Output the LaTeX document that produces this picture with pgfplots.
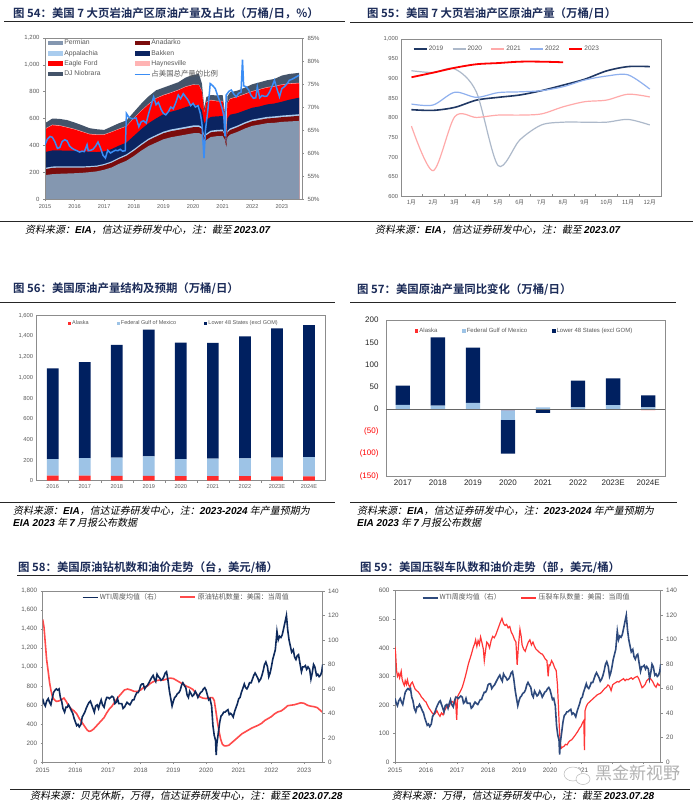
\documentclass[border=0pt]{standalone}
\usepackage{fontspec}
\usepackage{pgfplots}
\usepackage{pgfplotstable}
\pgfplotsset{compat=1.18}
\setmainfont{Liberation Sans}
\newfontfamily\cjk{Noto Sans CJK SC}
\newfontfamily\cjkb{Noto Sans CJK SC Bold}
\newfontfamily\cjki{Noto Sans CJK SC}[FakeSlant=0.2]

\definecolor{perm}{HTML}{8497B0}
\definecolor{anad}{HTML}{7B0C0C}
\definecolor{appa}{HTML}{A9CCEE}
\definecolor{bakk}{HTML}{0B2461}
\definecolor{eagle}{HTML}{FF0000}
\definecolor{hayn}{HTML}{FFB4B4}
\definecolor{djn}{HTML}{44546A}
\definecolor{pct}{HTML}{3A8DF5}
\definecolor{ttlc}{HTML}{1B2B58}
\definecolor{tk}{HTML}{595959}
\definecolor{frm}{HTML}{8C8C8C}
\definecolor{c19}{HTML}{203864}
\definecolor{c20}{HTML}{ADB9CA}
\definecolor{c21}{HTML}{FFAAAA}
\definecolor{c22}{HTML}{8FB0EE}
\definecolor{c23}{HTML}{FF0000}
\definecolor{ak}{HTML}{FF2D2D}
\definecolor{gom}{HTML}{9DC3E6}
\definecolor{l48}{HTML}{002060}
\definecolor{wticol}{HTML}{0E2A5C}
\definecolor{rigcol}{HTML}{FF4B4B}
\definecolor{wtibcol}{HTML}{2E4A7D}
\definecolor{fraccol}{HTML}{FF3535}

\pgfplotsset{
  base/.style={
    scale only axis, anchor=south west,
    axis line style={frm, line width=0.6pt},
    tick style={frm, line width=0.5pt},
    tick align=outside, major tick length=2pt,
    ticklabel style={text=tk},
    /pgf/number format/assume math mode=true,
    /pgf/number format/1000 sep={,},
    xticklabel style={/pgf/number format/1000 sep={}},
    legend cell align=left,
    legend style={draw=none, fill=none, inner sep=0pt, outer sep=0pt},
  },
}

% chart 54: stack boundaries (cumulative), 10k b/d
\pgfplotstableread{
t P A Ap B E H T
2015.00 178 222 232 350 520 524 565
2015.25 185 232 242 362 550 554 600
2015.50 188 234 244 362 545 549 597
2015.75 190 234 244 360 532 536 588
2016.00 192 234 244 360 518 522 570
2016.25 195 234 243 358 500 504 550
2016.50 200 236 245 352 482 486 528
2016.75 206 240 249 350 478 482 520
2017.00 218 252 261 355 478 482 515
2017.25 235 270 280 372 498 502 540
2017.50 262 298 308 398 520 524 565
2017.75 285 322 333 420 540 544 585
2018.00 320 358 370 470 600 604 648
2018.25 360 400 412 520 655 659 710
2018.50 395 438 450 565 705 709 765
2018.75 420 465 477 600 748 752 810
2019.00 445 490 502 632 772 776 830
2019.25 460 505 518 650 790 794 850
2019.50 470 515 528 665 810 814 870
2019.75 480 525 538 685 835 839 905
2020.00 490 535 548 700 850 854 925
2020.20 492 536 549 700 848 852 932
2020.30 480 522 535 660 800 804 860
2020.38 425 460 472 560 640 643 680
2020.45 440 475 487 590 720 724 760
2020.60 462 497 509 612 735 739 775
2020.80 468 503 515 616 728 732 772
2021.00 470 505 517 618 728 732 775
2021.08 440 470 480 540 600 603 640
2021.12 380 405 411 420 430 432 440
2021.16 460 495 507 600 710 714 765
2021.25 480 514 526 628 745 749 795
2021.50 500 535 547 640 760 764 808
2021.75 525 560 572 660 780 784 830
2022.00 545 580 592 680 800 804 855
2022.25 555 590 602 690 815 819 870
2022.50 565 600 612 705 830 834 885
2022.75 568 604 616 712 838 842 895
2023.00 575 610 622 725 850 854 920
2023.25 578 614 626 740 858 862 932
2023.58 582 620 632 755 862 866 940
}\tabA

% chart 54: share of US output, %
\pgfplotstableread{
t p
2015.00 61.8
2015.08 63.0
2015.17 63.6
2015.25 63.4
2015.33 62.5
2015.42 61.0
2015.50 61.2
2015.58 62.5
2015.67 62.9
2015.75 62.6
2015.83 61.5
2015.92 61.0
2016.00 60.7
2016.08 60.5
2016.17 60.2
2016.25 60.4
2016.33 60.3
2016.42 61.8
2016.46 60.5
2016.54 60.6
2016.62 60.8
2016.71 61.5
2016.79 62.4
2016.88 61.0
2016.96 59.5
2017.04 58.9
2017.12 60.6
2017.21 60.0
2017.29 60.3
2017.38 60.6
2017.46 60.5
2017.54 60.8
2017.62 60.4
2017.71 60.5
2017.75 68.6
2017.83 67.8
2017.92 67.5
2018.00 67.5
2018.08 67.6
2018.17 65.7
2018.25 66.8
2018.33 67.0
2018.42 66.5
2018.50 68.6
2018.58 70.3
2018.67 72.2
2018.75 70.5
2018.83 71.0
2018.92 69.5
2019.00 68.6
2019.08 68.3
2019.17 69.0
2019.25 70.0
2019.33 69.6
2019.42 71.0
2019.50 72.6
2019.58 71.8
2019.67 72.9
2019.75 72.2
2019.83 71.5
2019.92 70.3
2020.00 70.8
2020.08 70.0
2020.17 70.3
2020.25 68.5
2020.30 66.5
2020.37 58.9
2020.42 65.0
2020.50 69.3
2020.58 75.1
2020.67 74.6
2020.75 74.0
2020.83 72.5
2020.92 71.0
2021.00 69.3
2021.04 68.0
2021.08 63.6
2021.12 72.6
2021.21 73.4
2021.29 73.7
2021.38 72.8
2021.46 72.2
2021.54 73.0
2021.62 73.2
2021.67 80.3
2021.71 74.6
2021.79 74.4
2021.88 73.7
2021.96 72.5
2022.04 71.9
2022.12 72.0
2022.17 74.4
2022.25 72.0
2022.33 72.5
2022.42 72.3
2022.50 72.4
2022.58 73.2
2022.67 74.5
2022.75 75.8
2022.83 74.0
2022.92 72.2
2023.00 74.0
2023.08 74.4
2023.17 75.0
2023.25 75.8
2023.33 76.0
2023.42 76.3
2023.50 76.6
2023.58 76.9
}\tabP

% WTI weekly average, USD/bbl
\pgfplotstableread{
t w
2015.00 52
2015.04 48
2015.08 46
2015.12 50
2015.17 52
2015.21 49
2015.25 47
2015.29 52
2015.33 57
2015.38 59
2015.42 60
2015.46 59
2015.50 60
2015.54 53
2015.58 50
2015.62 44
2015.67 41
2015.71 45
2015.75 45
2015.79 47
2015.83 45
2015.88 42
2015.92 40
2015.96 36
2016.00 33
2016.04 30
2016.08 31
2016.12 29
2016.17 31
2016.21 37
2016.25 39
2016.29 41
2016.33 44
2016.38 47
2016.42 49
2016.46 50
2016.50 47
2016.54 44
2016.58 41
2016.62 46
2016.67 47
2016.71 44
2016.75 48
2016.79 51
2016.83 47
2016.88 45
2016.92 50
2016.96 53
2017.00 53
2017.04 52
2017.08 53
2017.12 54
2017.17 53
2017.21 48
2017.25 49
2017.29 52
2017.33 48
2017.38 48
2017.42 48
2017.46 44
2017.50 45
2017.54 47
2017.58 49
2017.62 48
2017.67 47
2017.71 49
2017.75 51
2017.79 51
2017.83 54
2017.88 57
2017.92 57
2017.96 59
2018.00 63
2018.04 64
2018.08 64
2018.12 60
2018.17 62
2018.21 63
2018.25 65
2018.29 67
2018.33 69
2018.38 71
2018.42 68
2018.46 66
2018.50 72
2018.54 70
2018.58 69
2018.62 67
2018.67 68
2018.71 70
2018.75 73
2018.79 74
2018.83 68
2018.88 58
2018.92 52
2018.96 46
2019.00 50
2019.04 53
2019.08 54
2019.12 56
2019.17 57
2019.21 59
2019.25 63
2019.29 65
2019.33 63
2019.38 61
2019.42 55
2019.46 53
2019.50 58
2019.54 56
2019.58 54
2019.62 55
2019.67 58
2019.71 56
2019.75 53
2019.79 55
2019.83 57
2019.88 58
2019.92 60
2019.96 61
2020.00 59
2020.04 55
2020.08 51
2020.12 52
2020.17 46
2020.21 30
2020.25 22
2020.29 18
2020.31 6
2020.33 15
2020.38 25
2020.42 33
2020.46 38
2020.50 39
2020.54 41
2020.58 41
2020.62 42
2020.67 43
2020.71 39
2020.75 40
2020.79 39
2020.83 37
2020.88 42
2020.92 45
2020.96 48
2021.00 52
2021.04 53
2021.08 57
2021.12 60
2021.17 64
2021.21 61
2021.25 60
2021.29 62
2021.33 65
2021.38 65
2021.42 68
2021.46 71
2021.50 73
2021.54 71
2021.58 69
2021.62 66
2021.67 68
2021.71 71
2021.75 75
2021.79 80
2021.83 82
2021.88 78
2021.92 70
2021.96 73
2022.00 78
2022.04 84
2022.08 88
2022.12 92
2022.17 107
2022.21 100
2022.25 103
2022.29 102
2022.33 104
2022.38 110
2022.42 115
2022.46 120
2022.50 108
2022.54 100
2022.58 95
2022.62 90
2022.67 92
2022.71 86
2022.75 84
2022.79 87
2022.83 88
2022.88 80
2022.92 74
2022.96 78
2023.00 78
2023.04 79
2023.08 76
2023.12 78
2023.17 76
2023.21 68
2023.25 73
2023.29 80
2023.33 78
2023.38 71
2023.42 72
2023.46 70
2023.50 71
2023.54 74
2023.57 80
}\tabW

% US oil rig count
\pgfplotstableread{
t r
2015.00 1500
2015.04 1420
2015.08 1250
2015.12 1080
2015.17 950
2015.21 840
2015.25 760
2015.29 700
2015.33 670
2015.38 650
2015.42 640
2015.50 645
2015.58 660
2015.65 675
2015.72 640
2015.80 590
2015.88 560
2015.96 540
2016.04 510
2016.12 460
2016.20 420
2016.28 380
2016.36 340
2016.42 325
2016.48 330
2016.56 350
2016.64 380
2016.72 410
2016.80 440
2016.88 470
2016.96 520
2017.04 560
2017.12 590
2017.20 630
2017.30 680
2017.40 720
2017.50 760
2017.60 770
2017.70 760
2017.80 745
2017.90 745
2018.00 760
2018.10 790
2018.20 800
2018.30 830
2018.40 850
2018.50 860
2018.60 865
2018.70 865
2018.80 875
2018.90 885
2019.00 880
2019.10 860
2019.20 840
2019.30 820
2019.40 800
2019.50 785
2019.60 765
2019.70 720
2019.80 690
2019.90 675
2020.00 670
2020.10 680
2020.20 680
2020.25 650
2020.30 540
2020.35 420
2020.40 320
2020.45 240
2020.50 190
2020.55 175
2020.60 172
2020.65 175
2020.70 180
2020.80 210
2020.90 240
2021.00 270
2021.10 300
2021.20 320
2021.30 340
2021.40 360
2021.50 375
2021.60 390
2021.70 410
2021.80 440
2021.90 460
2022.00 480
2022.10 510
2022.20 530
2022.30 540
2022.40 565
2022.50 595
2022.60 600
2022.70 605
2022.80 615
2022.90 625
2023.00 620
2023.10 600
2023.20 590
2023.30 585
2023.40 575
2023.50 545
2023.57 525
}\tabR

% US frac spread count
\pgfplotstableread{
t f
2015.00 404
2015.02 380
2015.05 320
2015.08 300
2015.12 310
2015.15 295
2015.20 318
2015.23 290
2015.27 275
2015.30 268
2015.33 285
2015.37 272
2015.40 288
2015.44 270
2015.48 262
2015.52 275
2015.56 280
2015.60 268
2015.65 255
2015.70 250
2015.75 245
2015.80 238
2015.85 228
2015.90 222
2015.95 215
2016.00 210
2016.05 198
2016.10 188
2016.15 180
2016.20 172
2016.25 166
2016.30 170
2016.35 180
2016.40 168
2016.45 160
2016.50 172
2016.55 165
2016.60 180
2016.65 190
2016.70 200
2016.75 195
2016.80 210
2016.85 212
2016.90 205
2016.95 222
2016.99 148
2017.02 230
2017.07 240
2017.12 250
2017.17 262
2017.22 280
2017.27 300
2017.32 322
2017.37 345
2017.42 362
2017.47 380
2017.52 400
2017.57 415
2017.60 428
2017.64 405
2017.68 425
2017.72 412
2017.76 438
2017.80 420
2017.85 395
2017.88 355
2017.92 390
2017.96 420
2018.00 415
2018.05 400
2018.10 425
2018.15 440
2018.20 435
2018.25 445
2018.30 460
2018.35 475
2018.40 490
2018.45 503
2018.50 485
2018.55 478
2018.60 482
2018.65 470
2018.70 475
2018.75 455
2018.80 445
2018.85 430
2018.90 420
2018.94 340
2018.98 405
2019.03 465
2019.07 440
2019.10 410
2019.15 395
2019.20 388
2019.25 405
2019.30 420
2019.35 428
2019.40 410
2019.45 420
2019.50 405
2019.55 395
2019.60 390
2019.65 385
2019.70 380
2019.75 378
2019.80 370
2019.85 360
2019.90 355
2019.94 300
2019.97 340
2020.00 338
2020.05 355
2020.10 345
2020.15 330
2020.20 320
2020.24 270
2020.27 200
2020.30 120
2020.33 70
2020.36 48
2020.40 52
2020.45 55
2020.50 62
2020.55 60
2020.60 70
2020.65 75
2020.70 78
2020.75 85
2020.80 92
2020.85 100
2020.90 108
2020.95 118
2021.00 125
2021.05 138
2021.09 145
2021.11 42
2021.13 180
2021.17 195
2021.22 205
2021.27 210
2021.32 215
2021.37 220
2021.42 225
2021.47 230
2021.52 235
2021.57 238
2021.62 240
2021.67 245
2021.72 252
2021.77 258
2021.82 262
2021.87 270
2021.92 265
2021.97 250
2022.02 270
2022.07 275
2022.12 278
2022.17 282
2022.22 280
2022.27 285
2022.32 288
2022.37 292
2022.42 285
2022.47 290
2022.52 288
2022.57 292
2022.62 295
2022.67 290
2022.72 295
2022.77 298
2022.82 300
2022.87 290
2022.92 275
2022.97 260
2023.02 265
2023.07 272
2023.12 285
2023.17 290
2023.22 295
2023.27 288
2023.32 280
2023.37 268
2023.42 262
2023.47 275
2023.52 268
2023.57 272
}\tabF

\newcommand{\ttl}[3]{\node[anchor=west, inner sep=0pt, text=ttlc, font=\cjkb\fontsize{11.4}{13}\selectfont] at (#1pt,-#2pt) {#3};}
\newcommand{\src}[3]{\node[anchor=west, inner sep=0pt, font=\cjki\fontsize{10}{12}\selectfont] at (#1pt,-#2pt) {#3};}
\newcommand{\lat}[1]{{\normalfont\bfseries\itshape #1}}
\newcommand{\hl}[3]{\draw[line width=0.8pt, black!85] (#1pt,-#3pt) -- (#2pt,-#3pt);}

\begin{document}
\begin{tikzpicture}
\fill[white] (0pt,0pt) rectangle (700pt,-806pt);
\useasboundingbox (0pt,0pt) rectangle (700pt,-806pt);

% ---------- titles, rules, sources ----------
\ttl{13}{13.5}{图 54：美国 7 大页岩油产区原油产量及占比（万桶/日，\%）}
\ttl{367}{13.5}{图 55：美国 7 大页岩油产区原油产量（万桶/日）}
\ttl{13}{289}{图 56：美国原油产量结构及预期（万桶/日）}
\ttl{357}{289.5}{图 57：美国原油产量同比变化（万桶/日）}
\ttl{18}{568}{图 58：美国原油钻机数和油价走势（台，美元/桶）}
\ttl{360}{568}{图 59：美国压裂车队数和油价走势（部，美元/桶）}

\hl{4}{345}{21.5}
\hl{350}{693}{22}
\hl{0}{335}{302.7}
\hl{350}{676}{302.7}
\hl{17}{350}{575}
\hl{350}{688}{575.7}

\hl{0}{350}{221}
\hl{350}{693}{221}
\hl{0}{335}{502.7}
\hl{350}{677}{502.7}
\hl{10}{350}{789}
\hl{350}{690}{789}

\src{25}{229.5}{资料来源：\lat{EIA}，信达证券研发中心，注：截至 \lat{2023.07}}
\src{375}{229.5}{资料来源：\lat{EIA}，信达证券研发中心，注：截至 \lat{2023.07}}
\src{13}{510.5}{资料来源：\lat{EIA}，信达证券研发中心，注：\lat{2023-2024} 年产量预期为}
\src{13}{522.5}{\lat{EIA 2023} 年 \lat{7} 月报公布数据}
\src{357}{510.5}{资料来源：\lat{EIA}，信达证券研发中心，注：\lat{2023-2024} 年产量预期为}
\src{357}{522.5}{\lat{EIA 2023} 年 \lat{7} 月报公布数据}
\src{30}{796}{资料来源：贝克休斯，万得，信达证券研发中心，注：截至 \lat{2023.07.28}}
\src{391.7}{796}{资料来源：万得，信达证券研发中心，注：截至 \lat{2023.07.28}}

% ---------- chart 54 ----------
\begin{axis}[base, at={(45pt,-199pt)}, width=257pt, height=161pt, axis on top,
  xmin=2015, xmax=2023.68, ymin=0, ymax=1200,
  xtick={2015,...,2023}, ytick={0,200,...,1200},
  ytick pos=left, xtick pos=bottom,
  yticklabel style={font=\fontsize{6}{7}\selectfont},
  xticklabel style={font=\fontsize{5.6}{7}\selectfont},
  legend columns=2,
  legend style={at={(0.012,0.995)}, anchor=north west,
    font=\fontsize{6.8}{7}\selectfont, row sep=1.3pt,
    nodes={text=tk, inner sep=1.2pt},
    /tikz/column 2/.style={column sep=32pt}},
  legend image code/.code={\fill[#1] (0pt,-2.2pt) rectangle (15pt,2.2pt);},
]
\addlegendimage{fill=perm, draw=none}\addlegendentry{Permian}
\addlegendimage{fill=anad, draw=none}\addlegendentry{Anadarko}
\addlegendimage{fill=appa, draw=none}\addlegendentry{Appalachia}
\addlegendimage{fill=bakk, draw=none}\addlegendentry{Bakken}
\addlegendimage{fill=eagle, draw=none}\addlegendentry{Eagle Ford}
\addlegendimage{fill=hayn, draw=none}\addlegendentry{Haynesville}
\addlegendimage{fill=djn, draw=none}\addlegendentry{DJ Niobrara}
\addlegendimage{legend image code/.code={\draw[pct, line width=1.5pt] (0pt,0pt) -- (15pt,0pt);}}
\addlegendentry{{\cjk\fontsize{7.4}{7}\selectfont 占美国总产量的比例}}
\addplot[fill=djn, draw=none, forget plot] table[x=t, y=T] {\tabA} \closedcycle;
\addplot[fill=hayn, draw=none, forget plot] table[x=t, y=H] {\tabA} \closedcycle;
\addplot[fill=eagle, draw=none, forget plot] table[x=t, y=E] {\tabA} \closedcycle;
\addplot[fill=bakk, draw=none, forget plot] table[x=t, y=B] {\tabA} \closedcycle;
\addplot[fill=appa, draw=none, forget plot] table[x=t, y=Ap] {\tabA} \closedcycle;
\addplot[fill=anad, draw=none, forget plot] table[x=t, y=A] {\tabA} \closedcycle;
\addplot[fill=perm, draw=none, forget plot] table[x=t, y=P] {\tabA} \closedcycle;
\end{axis}
\begin{axis}[base, at={(45pt,-199pt)}, width=257pt, height=161pt,
  xmin=2015, xmax=2023.68, ymin=50, ymax=85,
  axis x line=none, axis y line*=right,
  ytick={50,55,...,85}, yticklabel={\pgfmathprintnumber{\tick}\%},
  yticklabel style={font=\fontsize{6}{7}\selectfont},
]
\addplot[pct, line width=1.5pt] table[x=t, y=p] {\tabP};
\end{axis}

% ---------- chart 55 ----------
\begin{axis}[base, at={(401.7pt,-196.7pt)}, width=260pt, height=157.7pt,
  xmin=0.55, xmax=12.55, ymin=600, ymax=1000,
  ytick={600,650,...,1000}, xtick={1,...,12},
  xticklabels={{\cjk 1月},{\cjk 2月},{\cjk 3月},{\cjk 4月},{\cjk 5月},{\cjk 6月},{\cjk 7月},{\cjk 8月},{\cjk 9月},{\cjk 10月},{\cjk 11月},{\cjk 12月}},
  minor xtick={1.5,2.5,...,11.5}, tick align=inside,
  major tick length=0pt, minor tick length=2.5pt,
  ytick pos=left, xtick pos=bottom,
  yticklabel style={font=\fontsize{5.8}{7}\selectfont},
  xticklabel style={font=\fontsize{5.8}{7}\selectfont},
  legend columns=-1,
  legend style={at={(0.043,0.937)}, anchor=west,
    font=\fontsize{6.5}{7}\selectfont, nodes={text=tk, inner sep=1.3pt},
    /tikz/every even column/.append style={column sep=7.5pt}},
  legend image code/.code={\draw[#1] (0pt,0pt) -- (13pt,0pt);},
]
\addplot[c19, line width=1.6pt, smooth] coordinates {(1,820.7)(2,819)(3,826.6)(4,845)(5,852)(6,858)(7,869)(8,883)(9,898)(10,919)(11,930)(12,930)};
\addlegendentry{2019}
\addplot[c20, line width=1.2pt, smooth] coordinates {(1,919.6)(2,915)(3,924)(4,865)(5,679)(6,744)(7,782)(8,789)(9,789)(10,789)(11,796)(12,782)};
\addlegendentry{2020}
\addplot[c21, line width=1.2pt, smooth] coordinates {(1,779)(2,666)(3,803)(4,801)(5,807)(6,807)(7,810)(8,828)(9,841)(10,845)(11,860)(12,853)};
\addlegendentry{2021}
\addplot[c22, line width=1.2pt, smooth] coordinates {(1,835)(2,832.6)(3,865)(4,852)(5,864)(6,866)(7,869)(8,879)(9,896)(10,906)(11,909)(12,873)};
\addlegendentry{2022}
\addplot[c23, line width=1.8pt, smooth] coordinates {(1,903)(2,914.6)(3,927)(4,936)(5,939)(6,942.5)(7,942.5)(8,941)};
\addlegendentry{2023}
\end{axis}

% ---------- chart 56 ----------
\begin{axis}[base, at={(36.7pt,-480.7pt)}, width=288.3pt, height=165pt,
  ybar stacked, bar width=11.7pt,
  xmin=-0.5, xmax=8.5, ymin=0, ymax=1600,
  ytick={0,200,...,1600}, xtick={0,...,8},
  xticklabels={2016,2017,2018,2019,2020,2021,2022,2023E,2024E},
  minor xtick={0.5,1.5,...,7.5}, major tick length=0pt, minor tick length=2pt,
  ytick pos=left, xtick pos=bottom,
  yticklabel style={font=\fontsize{5.8}{7}\selectfont},
  xticklabel style={font=\fontsize{5.6}{7}\selectfont},
  legend columns=-1,
  legend style={at={(0.1086,0.954)}, anchor=west,
    font=\fontsize{5.5}{6}\selectfont, nodes={text=tk, inner sep=1pt},
    /tikz/every even column/.append style={column sep=27pt}},
]
\addplot[fill=ak, draw=none, legend image code/.code={\fill[ak] (0pt,-1.6pt) rectangle (3.2pt,1.6pt);}]
  coordinates {(0,49)(1,49)(2,48)(3,47)(4,45)(5,44)(6,44)(7,43)(8,42)};
\addlegendentry{Alaska}
\addplot[fill=gom, draw=none, legend image code/.code={\fill[gom] (0pt,-1.6pt) rectangle (3.2pt,1.6pt);}]
  coordinates {(0,160)(1,171)(2,175)(3,190)(4,165)(5,171)(6,173)(7,180)(8,187)};
\addlegendentry{Federal Gulf of Mexico}
\addplot[fill=l48, draw=none, legend image code/.code={\fill[l48] (0pt,-1.6pt) rectangle (3.2pt,1.6pt);}]
  coordinates {(0,881)(1,930)(2,1095)(3,1229)(4,1128)(5,1121)(6,1183)(7,1255)(8,1279)};
\addlegendentry{Lower 48 States (excl GOM)}
\end{axis}

% ---------- chart 57 ----------
\begin{axis}[base, at={(386pt,-476pt)}, width=279pt, height=156pt,
  ybar stacked, bar width=14.3pt,
  xmin=-0.48, xmax=7.48, ymin=-150, ymax=200,
  ytick={-150,-100,...,200},
  yticklabels={\textcolor{red}{(150)},\textcolor{red}{(100)},\textcolor{red}{(50)},0,50,100,150,200},
  xtick={0,...,7}, xticklabels={2017,2018,2019,2020,2021,2022,2023E,2024E},
  major tick length=0pt,
  ticklabel style={text=black!85, font=\fontsize{8}{9}\selectfont},
  yticklabel style={xshift=-4pt},
  legend columns=-1,
  legend style={at={(0.104,0.929)}, anchor=west,
    font=\fontsize{6}{7}\selectfont, nodes={text=tk, inner sep=1pt},
    /tikz/every even column/.append style={column sep=24pt}},
]
\addplot[fill=ak, draw=none, legend image code/.code={\fill[ak] (0pt,-1.7pt) rectangle (3.4pt,1.7pt);}]
  coordinates {(0,0.5)(1,0)(2,0)(3,0)(4,0)(5,0)(6,0)(7,0)};
\addlegendentry{Alaska}
\addplot[fill=gom, draw=none, legend image code/.code={\fill[gom] (0pt,-1.7pt) rectangle (3.4pt,1.7pt);}]
  coordinates {(0,9)(1,8)(2,14)(3,0)(4,4)(5,4)(6,9)(7,4)};
\addlegendentry{Federal Gulf of Mexico}
\addplot[fill=l48, draw=none, legend image code/.code={\fill[l48] (0pt,-1.7pt) rectangle (3.4pt,1.7pt);}]
  coordinates {(0,43)(1,153)(2,124)(3,0)(4,0)(5,60)(6,60)(7,27)};
\addlegendentry{Lower 48 States (excl GOM)}
\end{axis}
\begin{axis}[base, at={(386pt,-476pt)}, width=279pt, height=156pt,
  ybar stacked, bar width=14.3pt, hide axis,
  xmin=-0.48, xmax=7.48, ymin=-150, ymax=200]
\addplot[fill=ak, draw=none] coordinates {(0,0)(1,-1)(2,-1)(3,-2)(4,-0.5)(5,-1)(6,0)(7,-2)};
\addplot[fill=gom, draw=none] coordinates {(0,0)(1,0)(2,0)(3,-22)(4,0)(5,0)(6,0)(7,0)};
\addplot[fill=l48, draw=none] coordinates {(0,0)(1,0)(2,0)(3,-76)(4,-8)(5,0)(6,0)(7,0)};
\end{axis}
\begin{axis}[base, at={(386pt,-476pt)}, width=279pt, height=156pt, hide axis,
  xmin=-0.48, xmax=7.48, ymin=-150, ymax=200]
\addplot[draw=black!60, line width=1.1pt] coordinates {(-0.48,0)(7.48,0)};
\end{axis}

% ---------- chart 58 ----------
\begin{axis}[base, at={(42.7pt,-762.3pt)}, width=280pt, height=171.3pt,
  xmin=2015, xmax=2023.57, ymin=0, ymax=1800,
  xtick={2015,...,2023}, ytick={0,200,...,1800},
  ytick pos=left, xtick pos=bottom,
  ticklabel style={font=\fontsize{6.3}{7}\selectfont},
]
\addplot[draw=rigcol, line width=1.6pt] table[x=t, y=r] {\tabR};
\end{axis}
\begin{axis}[base, at={(42.7pt,-762.3pt)}, width=280pt, height=171.3pt,
  xmin=2015, xmax=2023.57, ymin=0, ymax=140,
  axis x line=none, axis y line*=right, ytick={0,20,...,140},
  ticklabel style={font=\fontsize{6.3}{7}\selectfont},
  legend columns=-1,
  legend style={at={(0.14,0.963)}, anchor=west,
    font=\cjk\fontsize{7}{8}\selectfont, nodes={text=tk, inner sep=1.3pt},
    /tikz/every even column/.append style={column sep=17pt}},
  legend image code/.code={\draw[#1] (0pt,0pt) -- (15pt,0pt);},
]
\addplot[draw=wticol, line width=1.6pt] table[x=t, y=w] {\tabW};
\addlegendentry{WTI周度均值（右）}
\addlegendimage{draw=rigcol, line width=2pt}
\addlegendentry{原油钻机数量：美国：当周值}
\end{axis}

% ---------- chart 59 ----------
\begin{axis}[base, at={(395pt,-762pt)}, width=265.7pt, height=171.3pt,
  xmin=2015, xmax=2023.57, ymin=0, ymax=600,
  xtick={2015,...,2023}, xticklabels={2015,2016,2017,2018,2019,2020,2021,{},{}},
  ytick={0,100,...,600},
  ytick pos=left, xtick pos=bottom,
  ticklabel style={font=\fontsize{6.4}{7}\selectfont},
]
\addplot[draw=fraccol, line width=1.2pt] table[x=t, y=f] {\tabF};
\end{axis}
\begin{axis}[base, at={(395pt,-762pt)}, width=265.7pt, height=171.3pt,
  xmin=2015, xmax=2023.57, ymin=0, ymax=140,
  axis x line=none, axis y line*=right, ytick={0,20,...,140},
  ticklabel style={font=\fontsize{6.4}{7}\selectfont},
  legend columns=-1,
  legend style={at={(0.1005,0.959)}, anchor=west,
    font=\cjk\fontsize{7}{8}\selectfont, nodes={text=tk, inner sep=1.3pt},
    /tikz/every even column/.append style={column sep=18pt}},
  legend image code/.code={\draw[#1] (0pt,0pt) -- (15pt,0pt);},
]
\addplot[draw=wtibcol, line width=1.6pt] table[x=t, y=w] {\tabW};
\addlegendentry{WTI周度均值（右）}
\addlegendimage{draw=fraccol, line width=2pt}
\addlegendentry{压裂车队数量：美国：当周值}
\end{axis}

% watermark
\draw[gray!55, fill=white, line width=0.5pt] (573pt,-774pt) ellipse (9pt and 7pt);
\draw[gray!55, fill=white, line width=0.5pt] (583pt,-779pt) ellipse (7pt and 5.5pt);
\node[anchor=west, inner sep=1pt, text=gray!60, font=\cjk\fontsize{17}{17}\selectfont] at (594pt,-773pt) {黑金新视野};
\end{tikzpicture}
\end{document}
